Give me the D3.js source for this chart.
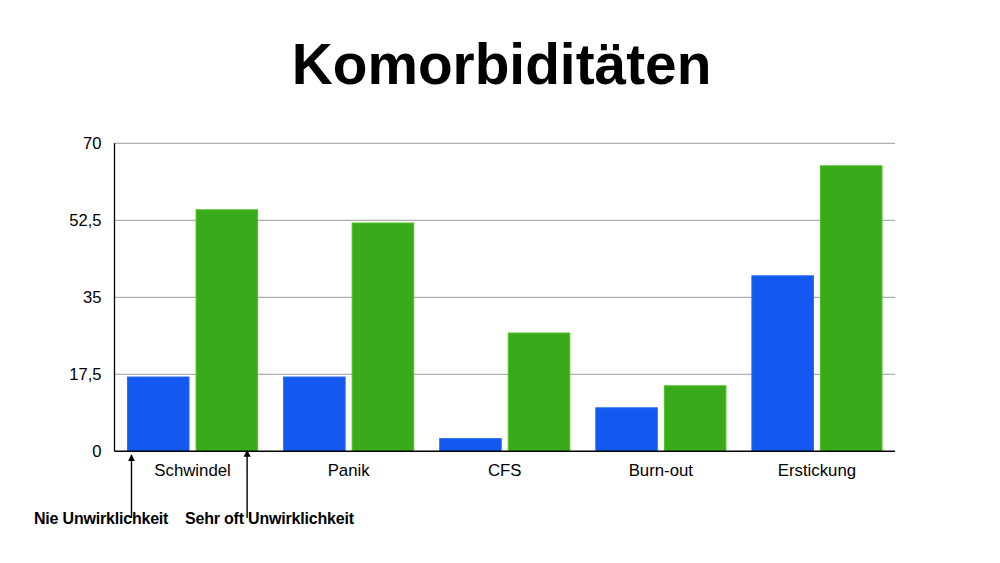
<!DOCTYPE html>
<html>
<head>
<meta charset="utf-8">
<script src="https://cdn.jsdelivr.net/npm/d3@7"></script>
<style>
  body { margin: 0; background: #fff; }
  svg { display: block; font-family: "Liberation Sans", Arial, Helvetica, sans-serif; }
</style>
</head>
<body>
<div class="graphContainer"></div>
<script>
// chart data
const categories = ["Schwindel", "Panik", "CFS", "Burn-out", "Erstickung"];
const series = ["Nie Unwirklichkeit", "Sehr oft Unwirklichkeit"];
const nieValues = [17, 17, 3, 10, 40];
const sehrOftValues = [55, 52, 27, 15, 65];
const yTicks = [0, 17.5, 35, 52.5, 70];
const yTickLabels = ["0", "17,5", "35", "52,5", "70"];

function drawChart() {
  const w = 1000,
    h = 563,
    left = 114.5,
    right = 895,
    top = 143.3,
    bottom = 451.3;

  const colors = ["#1358ef", "#3aaa1a"];
  const strokes = ["#2a6cf5", "#4cc322"];

  const canvas = d3.select(".graphContainer")
    .append("svg")
    .attr("width", w)
    .attr("height", h);

  const x0 = d3.scaleBand()
    .domain(categories)
    .range([left, right])
    .padding(0);

  const x1 = d3.scaleBand()
    .domain(series)
    .range([0, x0.bandwidth()])
    .paddingInner(0.088)
    .paddingOuter(0.182);

  const y = d3.scaleLinear()
    .domain([0, 70])
    .range([bottom, top]);

  // title
  canvas.append("text")
    .attr("x", 501.5)
    .attr("y", 83.5)
    .attr("text-anchor", "middle")
    .attr("font-size", 56.8)
    .attr("font-weight", "bold")
    .attr("fill", "#000")
    .text("Komorbiditäten");

  // gridlines
  canvas.append("g")
    .selectAll("line")
    .data(yTicks.filter(d => d > 0))
    .enter()
    .append("line")
    .attr("x1", left)
    .attr("x2", right)
    .attr("y1", d => y(d))
    .attr("y2", d => y(d))
    .attr("stroke", "#9a9a9a")
    .attr("stroke-width", 1);

  // y axis labels
  const yAxis = d3.axisLeft(y)
    .tickValues(yTicks)
    .tickSize(0)
    .tickPadding(13)
    .tickFormat((d, i) => yTickLabels[i]);

  canvas.append("g")
    .attr("transform", `translate(${left},0)`)
    .call(yAxis)
    .call(g => g.select(".domain").remove())
    .selectAll("text")
    .attr("font-size", 16.6)
    .attr("font-family", "\"Liberation Sans\", Arial, sans-serif")
    .attr("fill", "#000");

  // bars
  const data = categories.map((c, i) => ({
    cat: c,
    vals: [nieValues[i], sehrOftValues[i]]
  }));

  const groups = canvas.append("g")
    .selectAll("g")
    .data(data)
    .enter()
    .append("g")
    .attr("transform", d => `translate(${x0(d.cat)},0)`);

  groups.selectAll("rect")
    .data(d => d.vals.map((v, i) => ({ s: series[i], v: v, i: i })))
    .enter()
    .append("rect")
    .attr("x", d => x1(d.s) + 0.5)
    .attr("y", d => y(d.v) + 0.5)
    .attr("width", x1.bandwidth() - 1)
    .attr("height", d => y(0) - y(d.v) - 0.5)
    .attr("fill", d => colors[d.i])
    .attr("stroke", d => strokes[d.i])
    .attr("stroke-width", 1);

  // axis lines
  canvas.append("line")
    .attr("x1", left)
    .attr("x2", left)
    .attr("y1", top)
    .attr("y2", bottom)
    .attr("stroke", "#000")
    .attr("stroke-width", 1.3);

  canvas.append("line")
    .attr("x1", left)
    .attr("x2", right)
    .attr("y1", bottom)
    .attr("y2", bottom)
    .attr("stroke", "#000")
    .attr("stroke-width", 1.5);

  // category labels
  canvas.append("g")
    .selectAll("text")
    .data(categories)
    .enter()
    .append("text")
    .attr("x", d => x0(d) + x0.bandwidth() / 2)
    .attr("y", 476)
    .attr("text-anchor", "middle")
    .attr("font-size", 16.8)
    .attr("fill", "#000")
    .text(d => d);

  // annotations with arrows
  canvas.append("defs")
    .append("marker")
    .attr("id", "arrow")
    .attr("viewBox", "0 0 10 10")
    .attr("refX", 9)
    .attr("refY", 5)
    .attr("markerWidth", 5)
    .attr("markerHeight", 6)
    .attr("orient", "auto")
    .append("path")
    .attr("d", "M0,0 L10,5 L0,10 z")
    .attr("fill", "#000");

  const first = x0(categories[0]);
  const notes = [
    { text: series[0], tx: 34, ax: first + x1(series[0]) + 4.5, tipY: 455 },
    { text: series[1], tx: 185, ax: first + x1(series[1]) + x1.bandwidth() - 11, tipY: 450.5 }
  ];

  canvas.append("g")
    .selectAll("line")
    .data(notes)
    .enter()
    .append("line")
    .attr("x1", d => d.ax)
    .attr("x2", d => d.ax)
    .attr("y1", 518)
    .attr("y2", d => d.tipY)
    .attr("stroke", "#000")
    .attr("stroke-width", 1.4)
    .attr("marker-end", "url(#arrow)");

  canvas.append("g")
    .selectAll("text")
    .data(notes)
    .enter()
    .append("text")
    .attr("x", d => d.tx)
    .attr("y", 523.5)
    .attr("font-size", 16)
    .attr("font-weight", "bold")
    .attr("letter-spacing", -0.2)
    .attr("fill", "#000")
    .text(d => d.text);
}

drawChart();
</script>
</body>
</html>
